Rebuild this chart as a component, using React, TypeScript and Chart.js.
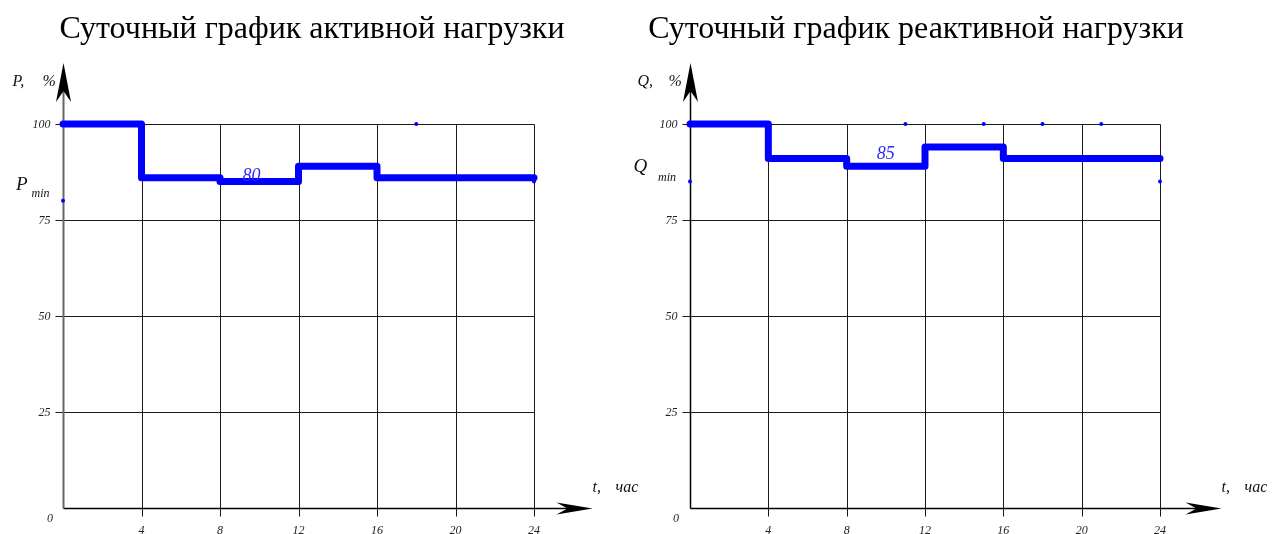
import React, { useEffect, useRef } from "react";
import { Chart, registerables } from "chart.js";

Chart.register(...registerables);

// ---------- data ----------
const hours = [0, 4, 8, 12, 16, 24];
const activeLoad = [100, 86, 85, 89, 86, 86];
const reactiveLoad = [100, 91, 89, 94, 91, 91];
const xTicks = [4, 8, 12, 16, 20, 24];
const yTicks = [25, 50, 75, 100];
const activeDotsX = [0, 18, 24];
const activeDotsY = [80, 100, 85];
const reactiveDotsX = [0, 11, 15, 18, 21, 24];
const reactiveDotsY = [85, 100, 100, 100, 100, 85];
const activeTitle = "Суточный график активной нагрузки";
const reactiveTitle = "Суточный график реактивной нагрузки";
const activeMark = { x: 9.6, y: 86.3, text: "80" };
const reactiveMark = { x: 10, y: 92.1, text: "85" };

const SERIF = '"Liberation Serif", "Times New Roman", serif';
const BLUE = "rgb(0,0,255)";

type PanelCfg = {
  title: string;
  titleX: number;
  letter: string;
  letterDx: number;
  letterBase: number;
  minDx: number;
  minBase: number;
  axisLabelDx: number;
  percentDx: number;
  tLabelDx: number;
  arrowTipDx: number;
  zeroDx: number;
  yAxisColor: string;
  yAxisWidth: number;
  mark: { x: number; y: number; text: string };
};

function makeDecor(cfg: PanelCfg) {
  const line = (ctx: CanvasRenderingContext2D, a: number, b: number, c: number, d: number) => {
    ctx.beginPath();
    ctx.moveTo(a, b);
    ctx.lineTo(c, d);
    ctx.stroke();
  };
  return {
    id: "decor",
    beforeDatasetsDraw(chart: any) {
      const ctx: CanvasRenderingContext2D = chart.ctx;
      const xs = chart.scales.x;
      const ys = chart.scales.y;
      const x0 = Math.round(xs.getPixelForValue(0)) + 0.5;
      const x24 = Math.round(xs.getPixelForValue(24)) + 0.5;
      const y0 = Math.round(ys.getPixelForValue(0)) + 0.5;
      const y100 = Math.round(ys.getPixelForValue(100)) + 0.5;
      ctx.save();
      ctx.strokeStyle = "#1a1a1a";
      ctx.lineWidth = 1;
      for (const v of yTicks) {
        const py = Math.round(ys.getPixelForValue(v)) + 0.5;
        line(ctx, x0 - 8, py, x24, py);
      }
      for (const v of xTicks) {
        const px = Math.round(xs.getPixelForValue(v)) + 0.5;
        line(ctx, px, y0 + 8, px, y100);
      }
      // x axis
      ctx.strokeStyle = "#000";
      ctx.lineWidth = 1.5;
      line(ctx, x0, y0, x24 + cfg.arrowTipDx - 10, y0);
      // y axis
      ctx.strokeStyle = cfg.yAxisColor;
      ctx.lineWidth = cfg.yAxisWidth;
      line(ctx, x0, y0, x0, 90);
      ctx.restore();
    },
    afterDatasetsDraw(chart: any) {
      const ctx: CanvasRenderingContext2D = chart.ctx;
      const xs = chart.scales.x;
      const ys = chart.scales.y;
      const x0 = Math.round(xs.getPixelForValue(0)) + 0.5;
      const x24 = Math.round(xs.getPixelForValue(24)) + 0.5;
      const y0 = Math.round(ys.getPixelForValue(0)) + 0.5;
      ctx.save();
      // arrows
      ctx.fillStyle = "#000";
      ctx.beginPath();
      ctx.moveTo(x0, 63);
      ctx.lineTo(x0 + 7.5, 102);
      ctx.lineTo(x0, 91);
      ctx.lineTo(x0 - 7.5, 102);
      ctx.closePath();
      ctx.fill();
      const tip = x24 + cfg.arrowTipDx;
      ctx.beginPath();
      ctx.moveTo(tip, y0);
      ctx.lineTo(tip - 36, y0 - 6);
      ctx.lineTo(tip - 25, y0);
      ctx.lineTo(tip - 36, y0 + 6);
      ctx.closePath();
      ctx.fill();

      // title
      ctx.fillStyle = "#000";
      ctx.font = `32px ${SERIF}`;
      ctx.textAlign = "center";
      ctx.textBaseline = "alphabetic";
      ctx.fillText(cfg.title, cfg.titleX, 38);

      // y tick labels
      ctx.font = `italic 12px ${SERIF}`;
      ctx.fillStyle = "#222";
      ctx.textAlign = "right";
      ctx.textBaseline = "middle";
      for (const v of yTicks) {
        ctx.fillText(String(v), x0 - 13, ys.getPixelForValue(v) + 0.5);
      }
      ctx.textAlign = "center";
      ctx.textBaseline = "alphabetic";
      ctx.fillText("0", x0 + cfg.zeroDx, y0 + 13);
      for (const v of xTicks) {
        ctx.fillText(String(v), xs.getPixelForValue(v), 534);
      }

      // axis labels
      ctx.fillStyle = "#111";
      ctx.textAlign = "left";
      ctx.font = `italic 16px ${SERIF}`;
      ctx.fillText(`${cfg.letter},`, x0 + cfg.axisLabelDx, 86);
      ctx.fillText("%", x0 + cfg.percentDx, 86);
      ctx.fillText("t,", x24 + cfg.tLabelDx, 492);
      ctx.fillText("час", x24 + cfg.tLabelDx + 23, 492);
      ctx.font = `italic 19px ${SERIF}`;
      ctx.fillText(cfg.letter, x0 + cfg.letterDx, cfg.letterBase);
      ctx.font = `italic 12px ${SERIF}`;
      ctx.fillText("min", x0 + cfg.minDx, cfg.minBase);

      // value mark
      ctx.fillStyle = "#2a2aff";
      ctx.font = `italic 18px ${SERIF}`;
      ctx.textAlign = "center";
      ctx.textBaseline = "middle";
      ctx.fillText(cfg.mark.text, xs.getPixelForValue(cfg.mark.x), ys.getPixelForValue(cfg.mark.y));
      ctx.restore();
    },
  };
}

function Panel(props: {
  width: number;
  left: number;
  padLeft: number;
  padRight: number;
  load: number[];
  dotsX: number[];
  dotsY: number[];
  cfg: PanelCfg;
}) {
  const ref = useRef<HTMLCanvasElement>(null);
  useEffect(() => {
    if (!ref.current) return;
    const chart = new Chart(ref.current, {
      type: "line",
      data: {
        datasets: [
          {
            data: hours.map((h, i) => ({ x: h, y: props.load[i] })),
            borderColor: BLUE,
            borderWidth: 7,
            stepped: "before",
            pointRadius: 0,
            borderCapStyle: "round",
            borderJoinStyle: "round",
            fill: false,
            clip: false,
          } as any,
          {
            data: props.dotsX.map((h, i) => ({ x: h, y: props.dotsY[i] })),
            showLine: false,
            pointRadius: 2,
            pointBackgroundColor: BLUE,
            pointBorderWidth: 0,
            borderColor: BLUE,
            clip: false,
          } as any,
        ],
      },
      options: {
        animation: false,
        responsive: false,
        layout: { padding: { left: props.padLeft, right: props.padRight, top: 124, bottom: 26 } },
        plugins: { legend: { display: false }, tooltip: { enabled: false }, title: { display: false } },
        scales: {
          x: { type: "linear", min: 0, max: 24, display: false },
          y: { type: "linear", min: 0, max: 100, display: false },
        },
      },
      plugins: [makeDecor(props.cfg)],
    });
    return () => chart.destroy();
  }, []);
  return (
    <canvas
      ref={ref}
      width={props.width}
      height={534}
      style={{ position: "absolute", left: props.left, top: 0, width: props.width, height: 534 }}
    />
  );
}

export default function App() {
  return (
    <div style={{ position: "absolute", left: 0, top: 0, width: 1286, height: 534, background: "#fff" }}>
      <Panel
        width={650}
        left={0}
        padLeft={63}
        padRight={650 - 534}
        load={activeLoad}
        dotsX={activeDotsX}
        dotsY={activeDotsY}
        cfg={{
          title: activeTitle,
          titleX: 312,
          letter: "P",
          letterDx: -47.5,
          letterBase: 190,
          minDx: -32,
          minBase: 197,
          axisLabelDx: -51,
          percentDx: -21,
          tLabelDx: 58,
          arrowTipDx: 58,
          zeroDx: -13.5,
          yAxisColor: "#666",
          yAxisWidth: 2,
          mark: activeMark,
        }}
      />
      <Panel
        width={686}
        left={600}
        padLeft={90}
        padRight={686 - 560}
        load={reactiveLoad}
        dotsX={reactiveDotsX}
        dotsY={reactiveDotsY}
        cfg={{
          title: reactiveTitle,
          titleX: 316,
          letter: "Q",
          letterDx: -57,
          letterBase: 172,
          minDx: -32.5,
          minBase: 181,
          axisLabelDx: -53,
          percentDx: -22,
          tLabelDx: 61,
          arrowTipDx: 61,
          zeroDx: -14.5,
          yAxisColor: "#000",
          yAxisWidth: 1.5,
          mark: reactiveMark,
        }}
      />
    </div>
  );
}
